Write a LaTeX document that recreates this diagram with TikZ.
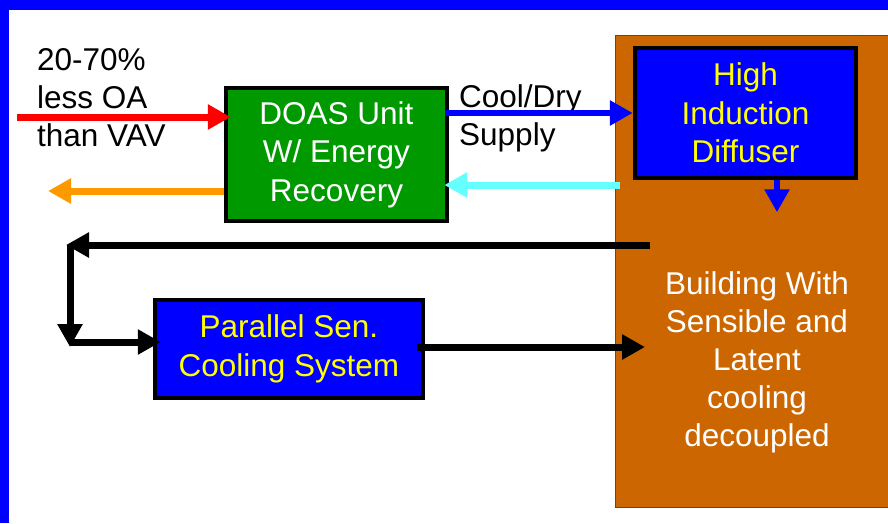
\documentclass[tikz,border=0pt]{standalone}
\usepackage{fontspec}
\setmainfont{Liberation Sans}
\usepackage{tikz}
\usetikzlibrary{arrows.meta,positioning}

\definecolor{frameblue}{HTML}{0000FF}
\definecolor{doasgreen}{HTML}{009900}
\definecolor{bldgbrown}{HTML}{CC6600}
\definecolor{txtyellow}{HTML}{FFFF00}
\definecolor{retcyan}{HTML}{66FFFF}
\definecolor{exhorange}{HTML}{FF9900}

\begin{document}
\begin{tikzpicture}[x=1pt,y=-1pt,>={Triangle[length=23pt,width=24pt]}]
  \tikzstyle{box}=[draw=black,line width=4.5pt,inner sep=0pt,align=center,font=\fontsize{31.5}{38.5}\selectfont]
  \tikzstyle{txt}=[inner sep=0pt,font=\fontsize{31.5}{38}\selectfont]
  \tikzstyle{flow}=[line width=7pt]

  \useasboundingbox (0,0) rectangle (888,523);
  \clip (0,0) rectangle (888,523);
  \fill[frameblue] (0,0) rectangle (888,10);
  \fill[frameblue] (0,0) rectangle (9,523);

  \node[draw=black!70,line width=0.8pt,fill=bldgbrown,minimum width=285pt,minimum height=472pt,anchor=north west] (bldg) at (615,35) {};
  \node[txt,text=white,align=center] (bldgtxt) at (757,362) {Building With\\Sensible and\\Latent\\cooling\\decoupled};

  \node[box,fill=frameblue,text=txtyellow,minimum width=221pt,minimum height=130pt] (diffuser) at (745.5,113) {High\\Induction\\Diffuser};
  \node[box,fill=doasgreen,text=white,minimum width=221pt,minimum height=133pt] (doas) at (336.5,154.5) {DOAS Unit\\W/ Energy\\Recovery};
  \node[box,fill=frameblue,text=txtyellow,minimum width=268pt,minimum height=98pt] (psc) at (289,349) {Parallel Sen.\\[1pt]Cooling System};

  \node[txt,align=left,anchor=west] (oatxt) at (37,98) {20-70\%\\less OA\\than VAV};
  \node[txt,align=left,anchor=west] (supplytxt) at (459,118) {Cool/Dry\\Supply};

  \coordinate (oa) at (17,117);
  \coordinate (exh) at (48,191);
  \coordinate (ret) at (620,185);
  \coordinate (rl) at (650,245);
  \coordinate (corner) at (70,245);
  \coordinate (feed) at (70,342);
  \coordinate (sen) at (0,347);

  \draw[->,flow,red] (oa) -- ([xshift=7pt]oa -| doas.west);
  \draw[->,flow,exhorange] (exh -| doas.west) -- (exh);
  \draw[->,line width=6pt,frameblue] ([xshift=-4pt]doas.east |- diffuser.west) -- (diffuser.west);
  \draw[->,flow,retcyan] (ret) -- ([xshift=-5pt]ret -| doas.east);
  \draw[->,line width=6pt,frameblue] ([xshift=31.5pt]diffuser.south) -- ++(0,32);

  \draw[->,flow] (rl) -- ([xshift=-4pt]rl -| corner);
  \draw[->,flow] (corner) -- ++(0,102);
  \draw[->,flow] (feed) -- ([xshift=8pt]feed -| psc.west);
  \draw[->,flow] ([xshift=-8pt]sen -| psc.east) -- ([xshift=30pt]sen -| bldg.west);
\end{tikzpicture}
\end{document}
